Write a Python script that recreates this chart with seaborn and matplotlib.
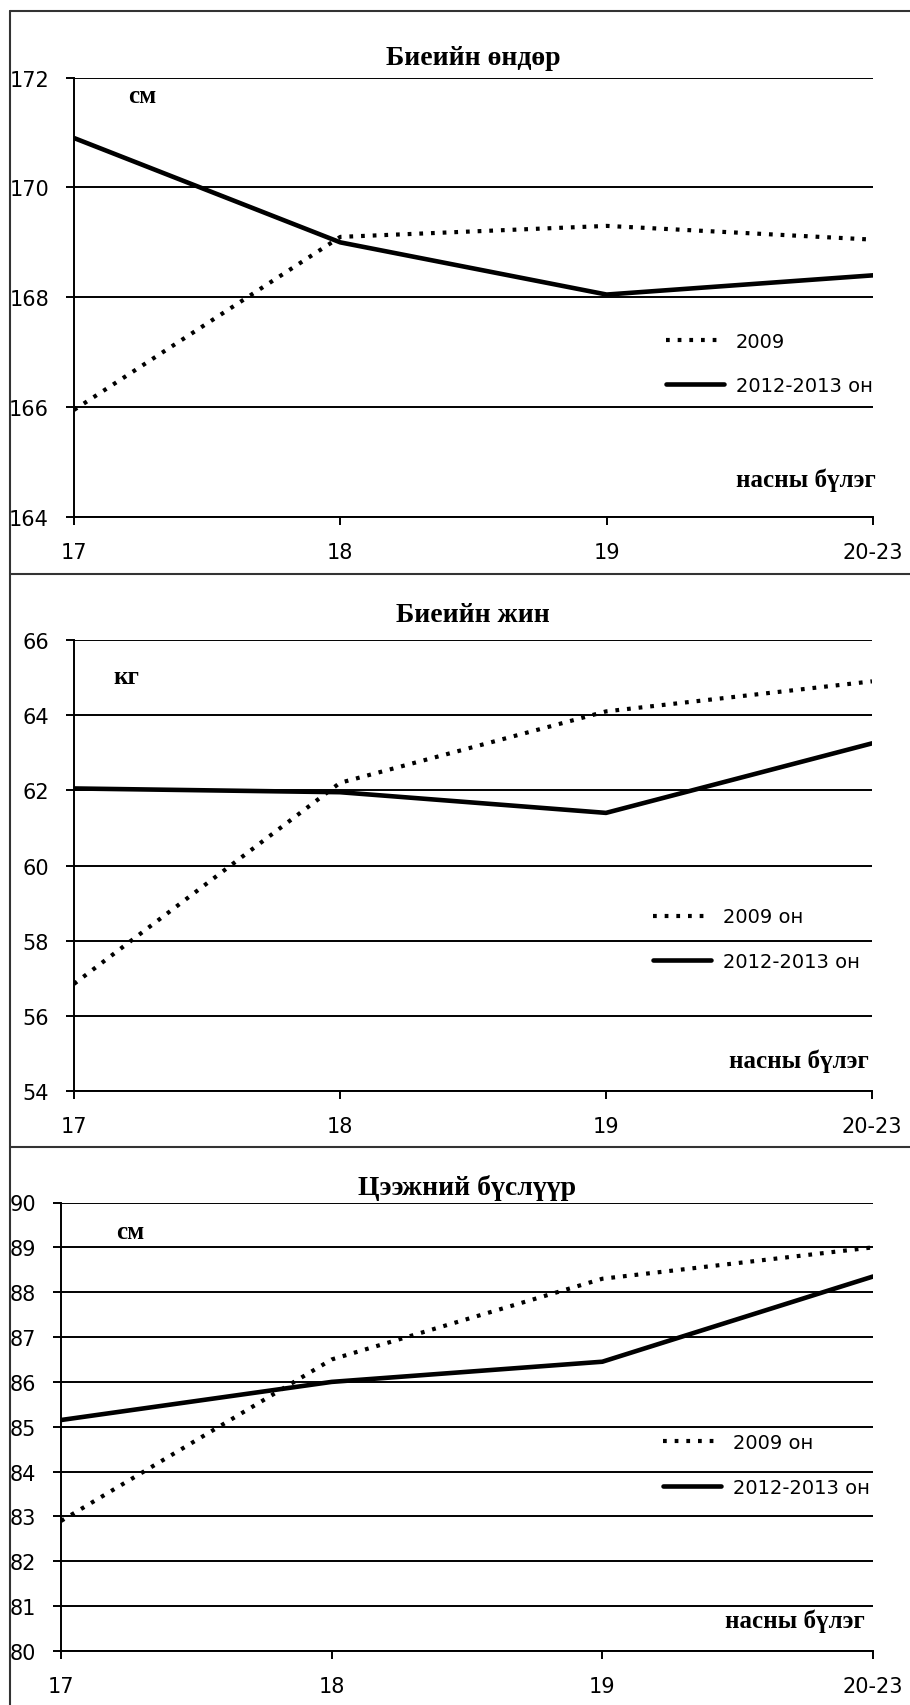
import numpy as np
import pandas as pd
import seaborn as sns
import matplotlib.pyplot as plt
from matplotlib.lines import Line2D

# data
ages = ["17", "18", "19", "20-23"]

height_2009 = [165.95, 169.1, 169.3, 169.05]
height_2012 = [170.9, 169.0, 168.05, 168.4]

weight_2009 = [56.85, 62.2, 64.1, 64.9]
weight_2012 = [62.05, 61.95, 61.4, 63.25]

chest_2009 = [82.9, 86.5, 88.3, 89.0]
chest_2012 = [85.15, 86.0, 86.45, 88.35]

titles = ["Биеийн өндөр", "Биеийн жин", "Цээжний бүслүүр"]
units = ["см", "кг", "см"]
legend_2009 = ["2009", "2009 он", "2009 он"]
legend_2012 = ["2012-2013 он", "2012-2013 он", "2012-2013 он"]
yticks_list = [np.arange(164, 173, 2), np.arange(54, 67, 2), np.arange(80, 91, 1)]

sns.set_theme(style="white")
plt.rcParams['font.family'] = ['DejaVu Sans']
plt.rcParams['text.color'] = 'black'
plt.rcParams['axes.labelcolor'] = 'black'
plt.rcParams['xtick.color'] = 'black'
plt.rcParams['ytick.color'] = 'black'
serif = ['Liberation Serif', 'DejaVu Serif']

W, H = 910, 1706
fig = plt.figure(figsize=(W / 100, H / 100), dpi=100)

# axes boxes in pixels: left, right, top, bottom
boxes = [(74, 873, 78.6, 518), (74, 872, 641, 1092), (61, 873, 1203.5, 1652)]
title_pads = [10, 14, 6]
unit_pos = [(0.068, 0.96), (0.049, 0.92), (0.068, 0.936)]
group_pos = [(1.004, 0.086), (0.996, 0.069), (0.99, 0.069)]
legend_pos = [(0.741, 0.35), (0.7256, 0.337), (0.741, 0.415)]

series = [(height_2009, height_2012), (weight_2009, weight_2012), (chest_2009, chest_2012)]

for i in range(3):
    l, r, t, b = boxes[i]
    ax = fig.add_axes([l / W, 1 - b / H, (r - l) / W, (b - t) / H])
    s09, s12 = series[i]
    df = pd.DataFrame({"age": ages, "v2009": s09, "v2012": s12})

    sns.lineplot(data=df, x="age", y="v2009", ax=ax, color="black", lw=3.0,
                 label=legend_2009[i], sort=False)
    sns.lineplot(data=df, x="age", y="v2012", ax=ax, color="black", lw=3.3,
                 label=legend_2012[i], sort=False)
    ax.lines[0].set_linestyle((0, (0.9, 1.9)))
    ax.lines[0].set_dash_capstyle("butt")

    yt = yticks_list[i]
    ax.set_ylim(yt[0], yt[-1])
    ax.set_yticks(yt)
    ax.set_xlim(0, 3)
    ax.set_xlabel("")
    ax.set_ylabel("")

    ax.yaxis.grid(True, color="black", lw=1.4)
    ax.set_axisbelow(True)
    for sp in ["top", "right"]:
        ax.spines[sp].set_visible(False)
    for sp in ["left", "bottom"]:
        ax.spines[sp].set_color("black")
        ax.spines[sp].set_linewidth(1.4)

    ax.tick_params(axis="y", left=True, length=6, width=1.4, color="black",
                   labelsize=15, pad=12, labelcolor="black")
    ax.tick_params(axis="x", bottom=True, length=6, width=1.4, color="black",
                   labelsize=15, pad=12, labelcolor="black")

    ax.set_title(titles[i], family=serif, fontweight="bold", fontsize=20,
                 pad=title_pads[i], color="black")
    ax.text(unit_pos[i][0], unit_pos[i][1], units[i], transform=ax.transAxes,
            family=serif, fontweight="bold", fontsize=18, va="center", color="black")
    ax.text(group_pos[i][0], group_pos[i][1], "насны бүлэг", transform=ax.transAxes,
            family=serif, fontweight="bold", fontsize=18, ha="right", va="center",
            color="black")

    ax.legend(loc="center left", bbox_to_anchor=legend_pos[i], frameon=False,
              fontsize=14, borderpad=0, borderaxespad=0, handlelength=3.0,
              handletextpad=0.6, labelspacing=1.3, labelcolor="black")

# panel frame lines
frame = dict(color="#333333", lw=1.5, transform=fig.transFigure)
fig.add_artist(Line2D([10 / W, 10 / W], [0, 1 - 12 / H], **frame))
for yy in [12, 575, 1148]:
    fig.add_artist(Line2D([10 / W, 1], [1 - yy / H, 1 - yy / H], **frame))

fig.savefig("out.png", dpi=100)
